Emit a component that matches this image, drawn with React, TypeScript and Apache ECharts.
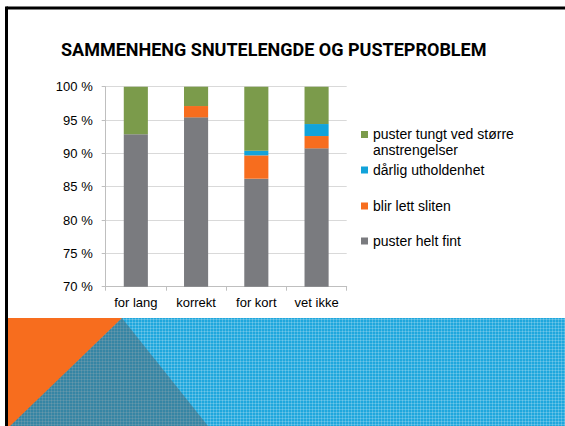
import React, { useEffect, useRef } from "react";
import * as echarts from "echarts";

const categories = ["for lang", "korrekt", "for kort", "vet ikke"];
const pusterHeltFint = [92.85, 95.4, 86.2, 90.75];
const blirLettSliten = [0, 1.7, 3.5, 1.85];
const darligUtholdenhet = [0, 0, 0.7, 1.8];
const pusterTungt = [7.15, 2.9, 9.6, 5.6];
const seriesNames = [
  "puster helt fint",
  "blir lett sliten",
  "dårlig utholdenhet",
  "puster tungt ved større anstrengelser",
];
const titleText = "SAMMENHENG SNUTELENGDE OG PUSTEPROBLEM";

const GREY = "#7a7b7f";
const ORANGE = "#f76d1e";
const BLUE = "#12a3da";
const GREEN = "#7b9b4b";

export default function App() {
  const ref = useRef<HTMLDivElement>(null);
  useEffect(() => {
    if (!ref.current) return;
    const chart = echarts.init(ref.current, null, { renderer: "svg" });

    // decorative background pattern lines
    const pattern: any[] = [];
    const bx0 = 8, by0 = 318, bx1 = 565, by1 = 426;
    for (let x = bx0 + 1; x < bx1; x += 3) {
      pattern.push({
        type: "line",
        silent: true,
        shape: { x1: x + 0.5, y1: by0, x2: x + 0.5, y2: by1 },
        style: { stroke: "rgba(255,255,255,0.2)", lineWidth: 1 },
      });
    }
    for (let y = by0 + 1; y < by1; y += 3) {
      pattern.push({
        type: "line",
        silent: true,
        shape: { x1: bx0, y1: y + 0.5, x2: bx1, y2: y + 0.5 },
        style: { stroke: "rgba(255,255,255,0.2)", lineWidth: 1 },
      });
    }

    const legendBase = {
      orient: "vertical",
      left: 361,
      padding: 0,
      itemWidth: 7,
      itemHeight: 7,
      icon: "rect",
      selectedMode: false,
      textStyle: {
        fontFamily: "Liberation Sans, Arial, sans-serif",
        fontSize: 14,
        color: "#000",
        lineHeight: 16,
      },
    };

    chart.setOption({
      animation: false,
      backgroundColor: "#ffffff",
      title: {
        text: titleText,
        left: 61,
        top: 40,
        padding: 0,
        textStyle: {
          fontFamily: "Roboto, sans-serif",
          fontWeight: "bold",
          fontSize: 18,
          color: "#000",
        },
      },
      legend: [
        {
          ...legendBase,
          top: 126,
          data: [seriesNames[3]],
          itemHeight: 23,
          icon: "path://M0,0h7v7h-7z M0,22h0.01v0.01h-0.01z",
          formatter: () => "puster tungt ved større\nanstrengelser",
        },
        { ...legendBase, top: 162, data: [seriesNames[2]] },
        { ...legendBase, top: 198, data: [seriesNames[1]] },
        { ...legendBase, top: 233, data: [seriesNames[0]] },
      ],
      grid: { left: 105.7, top: 86.7, width: 241, height: 200, containLabel: false },
      xAxis: {
        type: "category",
        data: categories,
        axisLine: { lineStyle: { color: "#bfbfbf" } },
        axisTick: { show: true, length: 4, lineStyle: { color: "#bfbfbf" } },
        axisLabel: {
          margin: 9,
          fontFamily: "Liberation Sans, Arial, sans-serif",
          fontSize: 13,
          color: "#000",
        },
      },
      yAxis: {
        type: "value",
        min: 70,
        max: 100,
        interval: 5,
        axisLine: { show: true, lineStyle: { color: "#bfbfbf" } },
        axisTick: { show: true, length: 4, lineStyle: { color: "#bfbfbf" } },
        splitLine: { lineStyle: { color: "#d9d9d9" } },
        axisLabel: {
          margin: 13,
          formatter: (v: number) => `${v} %`,
          fontFamily: "Liberation Sans, Arial, sans-serif",
          fontSize: 13,
          color: "#000",
        },
      },
      series: [
        { name: seriesNames[0], type: "bar", stack: "s", barWidth: "40%", data: pusterHeltFint, itemStyle: { color: GREY }, clip: true },
        { name: seriesNames[1], type: "bar", stack: "s", barWidth: "40%", data: blirLettSliten, itemStyle: { color: ORANGE }, clip: true },
        { name: seriesNames[2], type: "bar", stack: "s", barWidth: "40%", data: darligUtholdenhet, itemStyle: { color: BLUE }, clip: true },
        { name: seriesNames[3], type: "bar", stack: "s", barWidth: "40%", data: pusterTungt, itemStyle: { color: GREEN }, clip: true },
      ],
      graphic: [
        {
          type: "group",
          silent: true,
          children: [
            { type: "rect", shape: { x: bx0, y: by0, width: bx1 - bx0, height: by1 - by0 }, style: { fill: "#1fa7dd" } },
            ...pattern,
            { type: "polygon", shape: { points: [[122, by0], [9, by1], [208, by1]] }, style: { fill: "rgba(85,85,85,0.42)" } },
            { type: "polygon", shape: { points: [[bx0, by0], [122, by0], [bx0, by1 + 2]] }, style: { fill: ORANGE } },
            { type: "line", shape: { x1: 6.5, y1: 8, x2: 565, y2: 8 }, style: { stroke: "#000", lineWidth: 3 } },
            { type: "line", shape: { x1: 6.5, y1: 6.5, x2: 6.5, y2: 426 }, style: { stroke: "#000", lineWidth: 3 } },
          ],
        },
      ],
    });
    return () => chart.dispose();
  }, []);
  return (
    <div
      ref={ref}
      style={{ position: "fixed", left: 0, top: 0, width: 565, height: 426 }}
    />
  );
}
